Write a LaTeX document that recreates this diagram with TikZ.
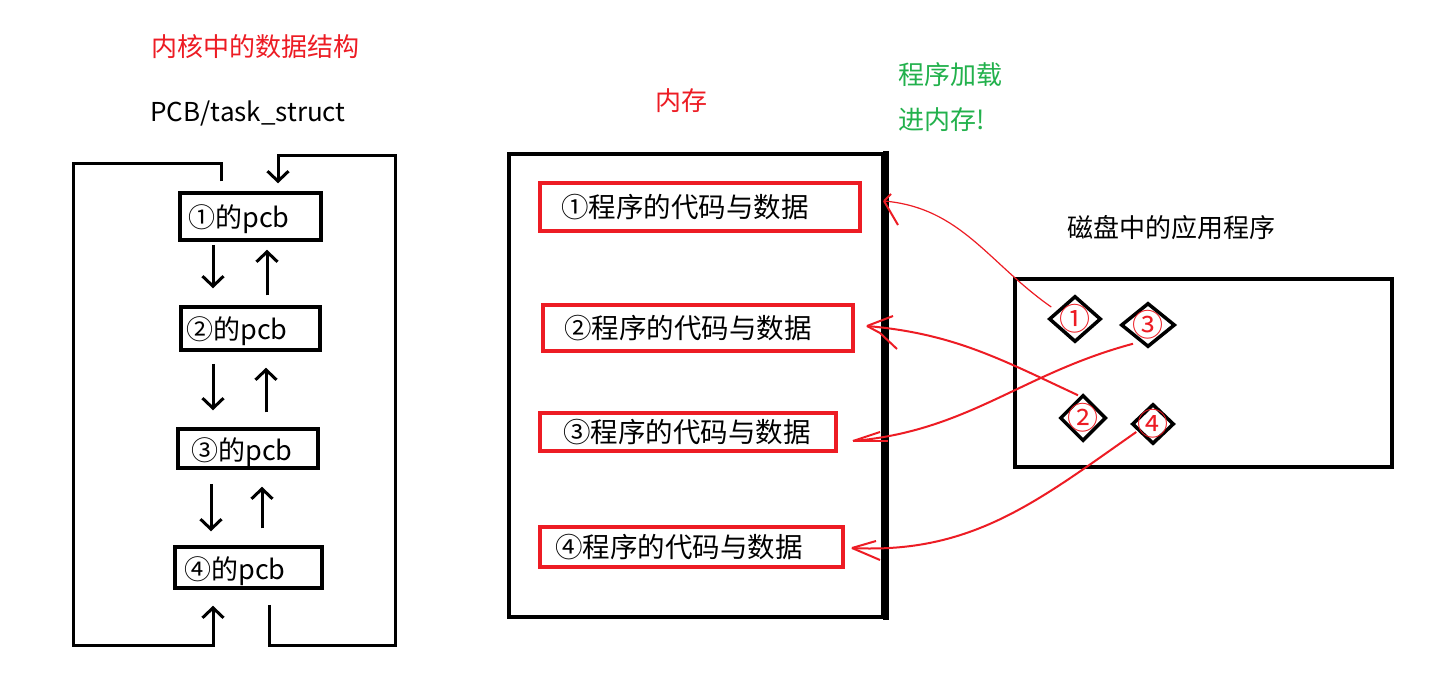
\documentclass[tikz,border=0pt]{standalone}
\usepackage{fontspec}
\setmainfont{Noto Sans CJK SC}
\usetikzlibrary{arrows.meta,calc,shapes.geometric}
\definecolor{pred}{RGB}{237,28,36}
\definecolor{pgreen}{RGB}{34,177,76}
\begin{document}
\begin{tikzpicture}[x=1pt,y=-1pt,
  lbl/.style={inner sep=0pt,font=\fontsize{26}{26}\selectfont},
  pcbbox/.style={draw=black,line width=3.5pt,inner sep=0pt},
  pcbtext/.style={anchor=west,inner sep=0pt,font=\fontsize{27}{27}\selectfont},
  membox/.style={draw=pred,line width=3.5pt,inner sep=0pt},
  memtext/.style={anchor=west,inner sep=0pt,font=\fontsize{27.5}{27.5}\selectfont},
  dia/.style={diamond,draw=black,line width=3.5pt,inner sep=0pt,
    label={[text=pred,inner sep=0pt,font=\fontsize{31}{31}\selectfont]center:#1}},
  arr/.style={line width=3pt,-{Straight Barb[length=10pt,width=21pt,line width=3pt]}},
  rline/.style={draw=pred,line width=2pt},
  thinr/.style={draw=pred,line width=1.2pt}
]
\useasboundingbox (0,0) rectangle (1433,680);
\fill[white] (0,0) rectangle (1433,680);

% titles
\node[lbl,text=pred] (ttl) at (255,47) {内核中的数据结构};
\node[lbl] (pcbt) at (248,113) {PCB/task\_struct};
\node[lbl,text=pred] (memt) at (681,101) {内存};
\node[lbl,text=pgreen,anchor=west] (load1) at (898,75) {程序加载};
\node[lbl,text=pgreen,anchor=west] (load2) at (898,120) {进内存!};
\node[lbl] (disk) at (1171,228) {磁盘中的应用程序};

% PCB boxes
\node[pcbbox,minimum width=141,minimum height=47] (p1) at (250.5,216.5) {};
\node[pcbbox,minimum width=139,minimum height=43] (p2) at (250.5,328.5) {};
\node[pcbbox,minimum width=140,minimum height=39] (p3) at (248,448.5) {};
\node[pcbbox,minimum width=147,minimum height=41] (p4) at (248.5,567.5) {};
\node[pcbtext] (p1t) at ($(p1.west)+(10,3)$) {①的pcb};
\node[pcbtext] (p2t) at ($(p2.west)+(7,3)$) {②的pcb};
\node[pcbtext] (p3t) at ($(p3.west)+(15,4)$) {③的pcb};
\node[pcbtext] (p4t) at ($(p4.west)+(11,4)$) {④的pcb};

% arrows between PCBs
\draw[arr] ($(p1.south)+(-37.5,3)$) -- ($(p2.north)+(-37.5,-17)$);
\draw[arr] ($(p2.north)+(16.5,-10)$) -- ($(p1.south)+(16.5,8)$);
\draw[arr] ($(p2.south)+(-37.5,12)$) -- ($(p3.north)+(-35,-17)$);
\draw[arr] ($(p3.north)+(18,-15)$) -- ($(p2.south)+(15.5,16)$);
\draw[arr] ($(p3.south)+(-37,14)$) -- ($(p4.north)+(-37.5,-14)$);
\draw[arr] ($(p4.north)+(13.5,-17)$) -- ($(p3.south)+(14,17)$);

% outer loops
\draw[arr] ($(p1.north)+(-29.5,-10)$) |- (73,163) |- (213,645) -- ($(p4.south)+(-35.5,16)$);
\draw[arr] ($(p4.south)+(20.5,15)$) |- (395,645) |- (278,155) -- ($(p1.north)+(27.5,-8)$);

% memory
\node[draw=black,line width=3.5pt,minimum width=374,minimum height=463,inner sep=0pt] (mem) at (696,385.5) {};
\draw[line width=5.5pt] ($(mem.north east)+(1,-1.5)$) -- ($(mem.south east)+(1,1.5)$);

\node[membox,minimum width=320,minimum height=48] (m1) at (700,207) {};
\node[membox,minimum width=310,minimum height=46] (m2) at (698,328) {};
\node[membox,minimum width=296,minimum height=38] (m3) at (688,432) {};
\node[membox,minimum width=303,minimum height=40] (m4) at (691.5,547) {};
\node[memtext] (m1t) at ($(m1.west)+(23,0)$) {①程序的代码与数据};
\node[memtext] (m2t) at ($(m2.west)+(23,0)$) {②程序的代码与数据};
\node[memtext] (m3t) at ($(m3.west)+(25,0)$) {③程序的代码与数据};
\node[memtext] (m4t) at ($(m4.west)+(17,0)$) {④程序的代码与数据};

% disk
\node[draw=black,line width=3.5pt,minimum width=377,minimum height=188,inner sep=0pt] (dsk) at (1203.5,373) {};
\node[dia=①,minimum width=52,minimum height=46] (d1) at (1075,319) {};
\node[dia=③,minimum width=54,minimum height=44] (d3) at (1148,325) {};
\node[dia=②,minimum width=46,minimum height=46] (d2) at (1083,418) {};
\node[dia=④,minimum width=42,minimum height=40] (d4) at (1153,424) {};

% loading curves
\coordinate (tip1) at (884,201);
\coordinate (tip2) at (867,326);
\coordinate (tip3) at (853,441);
\coordinate (tip4) at (852,548);

\draw[thinr] ($(d1.west)+(4,-12)$) to[out=145,in=-5] (tip1);
\draw[rline] (tip1) -- ++(7,-7);
\draw[rline] (tip1) -- ++(14,24);

\draw[rline] ($(d2.north)+(-5,2)$) to[out=155,in=-5] (tip2);
\draw[rline] (tip2) -- ++(26,-10);
\draw[rline] (tip2) -- ++(13,7) -- ++(17,16);

\draw[rline] ($(d3.south)+(-15,-5)$) to[out=195,in=5] (tip3);
\draw[rline] (tip3) -- ++(27,-9);
\draw[rline] (tip3) -- ++(35,0);

\draw[rline] ($(d4.west)+(6,8)$) to[out=215,in=-3] (tip4);
\draw[rline] (tip4) -- ++(24,-7);
\draw[rline] (tip4) -- ++(28,12);
\end{tikzpicture}
\end{document}
